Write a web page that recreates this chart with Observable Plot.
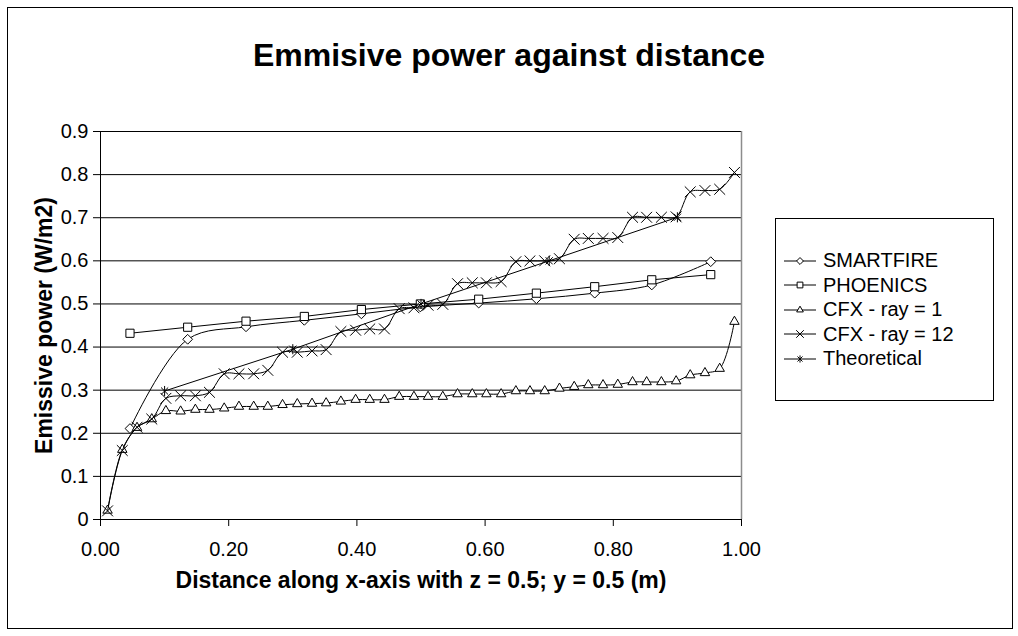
<!DOCTYPE html>
<html><head><meta charset="utf-8">
<script src="https://cdn.jsdelivr.net/npm/d3@7"></script>
<script src="https://cdn.jsdelivr.net/npm/@observablehq/plot@0.6"></script>
<style>
body{margin:0;background:#fff;font-family:"Liberation Sans",Arial,sans-serif;}
#wrap{position:relative;width:1018px;height:636px;overflow:hidden;background:#fff}
#frame{position:absolute;left:7px;top:7px;width:1006px;height:622px;border:1px solid #000;box-sizing:border-box}
#title{position:absolute;left:0;width:1018px;top:36px;text-align:center;font-weight:bold;font-size:32px;line-height:38px;color:#000}
#chart{position:absolute;left:0;top:0}
#legend{position:absolute;left:775px;top:218px;width:219px;height:183px;border:1px solid #000;box-sizing:border-box;background:#fff;display:flex;flex-direction:column;justify-content:center}
.row{display:flex;align-items:center;height:24.5px;font-size:20px;color:#000;white-space:nowrap}
.row svg{flex:none}
</style></head>
<body>
<div id="wrap">
  <div id="frame"></div>
  <div id="title">Emmisive power against distance</div>
  <div id="chart"></div>
  <div id="legend"></div>
</div>
<script>
// ---- data ----
const xTicks = [0, 0.2, 0.4, 0.6, 0.8, 1.0];
const yTicks = [0, 0.1, 0.2, 0.3, 0.4, 0.5, 0.6, 0.7, 0.8, 0.9];
const seriesNames = ["SMARTFIRE", "PHOENICS", "CFX - ray = 1", "CFX - ray = 12", "Theoretical"];

const smartfireX = [0.046, 0.136, 0.227, 0.318, 0.407, 0.499, 0.590, 0.680, 0.771, 0.860, 0.952];
const smartfireY = [0.211, 0.418, 0.447, 0.462, 0.477, 0.493, 0.502, 0.512, 0.525, 0.544, 0.598];

const phoenicsX = [0.046, 0.136, 0.227, 0.318, 0.407, 0.499, 0.590, 0.680, 0.771, 0.860, 0.952];
const phoenicsY = [0.432, 0.446, 0.460, 0.471, 0.487, 0.500, 0.511, 0.525, 0.540, 0.556, 0.568];

const cfxX = [0.011, 0.034, 0.057, 0.080, 0.102, 0.125, 0.148, 0.170, 0.193, 0.216, 0.239,
              0.261, 0.284, 0.307, 0.330, 0.352, 0.375, 0.398, 0.420, 0.443, 0.466, 0.489,
              0.511, 0.534, 0.557, 0.580, 0.602, 0.625, 0.648, 0.670, 0.693, 0.716, 0.739,
              0.761, 0.784, 0.807, 0.830, 0.852, 0.875, 0.898, 0.920, 0.943, 0.966, 0.989];
const cfxRay1Y = [0.021, 0.162, 0.213, 0.233, 0.252, 0.251, 0.255, 0.255, 0.258, 0.262, 0.262,
                  0.262, 0.266, 0.268, 0.269, 0.270, 0.274, 0.278, 0.278, 0.278, 0.285, 0.285,
                  0.285, 0.285, 0.291, 0.291, 0.291, 0.291, 0.298, 0.298, 0.298, 0.304, 0.308,
                  0.312, 0.312, 0.313, 0.319, 0.319, 0.319, 0.321, 0.335, 0.340, 0.350, 0.459];
const cfxRay12Y = [0.020, 0.160, 0.214, 0.233, 0.281, 0.287, 0.287, 0.295, 0.338, 0.338, 0.338,
                   0.346, 0.388, 0.388, 0.391, 0.394, 0.436, 0.439, 0.442, 0.442, 0.489, 0.491,
                   0.497, 0.499, 0.547, 0.549, 0.549, 0.552, 0.598, 0.600, 0.600, 0.605, 0.650,
                   0.652, 0.652, 0.654, 0.701, 0.701, 0.701, 0.702, 0.760, 0.763, 0.766, 0.805];

const theoreticalX = [0.1, 0.3, 0.5, 0.7, 0.9];
const theoreticalY = [0.298, 0.395, 0.500, 0.600, 0.701];

// ---- symbols ----
const asteriskSymbol = {
  draw(context, size) {
    const r = Math.sqrt(size) * 0.62;
    const d = r * 0.7071;
    context.moveTo(0, -r); context.lineTo(0, r);
    context.moveTo(-d, -d); context.lineTo(d, d);
    context.moveTo(-d, d); context.lineTo(d, -d);
  }
};
const d3Sym = {
  "diamond2": d3.symbolDiamond2, "square2": d3.symbolSquare2,
  "triangle2": d3.symbolTriangle2, "times": d3.symbolTimes
};

const zip = (xs, ys) => xs.map((x, i) => ({x, y: ys[i]}));
const series = [
  {name: seriesNames[0], data: zip(smartfireX, smartfireY), symbol: "diamond2", r: 4.4, fill: "white", curve: "catmull-rom"},
  {name: seriesNames[1], data: zip(phoenicsX, phoenicsY), symbol: "square2", r: 5.2, fill: "white", curve: "linear"},
  {name: seriesNames[2], data: zip(cfxX, cfxRay1Y), symbol: "triangle2", r: 4.5, fill: "white", curve: "catmull-rom"},
  {name: seriesNames[3], data: zip(cfxX, cfxRay12Y), symbol: "times", r: 5.0, fill: "none", curve: "catmull-rom"},
  {name: seriesNames[4], data: zip(theoreticalX, theoreticalY), symbol: asteriskSymbol, r: 4.6, fill: "none", curve: "linear"}
];

const seriesMarks = series.flatMap(s => [
  Plot.line(s.data, {x: "x", y: "y", curve: s.curve, stroke: "#000", strokeWidth: 1}),
  Plot.dot(s.data, {x: "x", y: "y", symbol: () => s.symbol, r: s.r, stroke: "#000", strokeWidth: 1, fill: s.fill})
]);

const chart = Plot.plot({
  width: 1018,
  height: 636,
  marginLeft: 100,
  marginRight: 277,
  marginTop: 131,
  marginBottom: 117,
  style: {fontFamily: "'Liberation Sans', Arial, sans-serif", fontSize: "20px", background: "transparent", color: "#000", overflow: "visible"},
  x: {domain: [0, 1]},
  y: {domain: [0, 0.9]},
  symbol: {type: "identity"},
  marks: [
    Plot.gridY(yTicks, {stroke: "#000", strokeOpacity: 1, strokeWidth: 1}),
    Plot.ruleX([1], {y1: 0, y2: 0.9, stroke: "#8c8c8c", strokeWidth: 1.5}),
    Plot.ruleX([0], {y1: 0, y2: 0.9, stroke: "#000", strokeWidth: 1}),
    Plot.axisX({ticks: xTicks, tickFormat: d3.format(".2f"), tickSize: 7, tickPadding: 15, label: null, stroke: "#000"}),
    Plot.axisY({ticks: yTicks, tickFormat: d => d === 0 ? "0" : d3.format(".1f")(d), tickSize: 7, tickPadding: 5, label: null, stroke: "#000"}),
    Plot.text(["Emissive power (W/m2)"], {frameAnchor: "left", rotate: -90, dx: -56, textAnchor: "middle", fontWeight: "bold", fontSize: 23, lineAnchor: "middle"}),
    Plot.text(["Distance along x-axis with z = 0.5; y = 0.5 (m)"], {frameAnchor: "bottom", dy: 61, textAnchor: "middle", fontWeight: "bold", fontSize: 23, lineAnchor: "middle"}),
    ...seriesMarks
  ]
});
document.getElementById("chart").append(chart);

// ---- legend ----
const legend = document.getElementById("legend");
for (const s of series) {
  const row = document.createElement("div");
  row.className = "row";
  const svg = d3.create("svg").attr("width", 47).attr("height", 24);
  svg.append("line").attr("x1", 8).attr("x2", 40).attr("y1", 12).attr("y2", 12).attr("stroke", "#000");
  const symType = typeof s.symbol === "string" ? d3Sym[s.symbol] : s.symbol;
  const size = Math.PI * s.r * s.r * 0.5;
  svg.append("path").attr("d", d3.symbol(symType, size)()).attr("transform", "translate(24,12)")
     .attr("fill", s.fill).attr("stroke", "#000");
  row.append(svg.node());
  const label = document.createElement("span");
  label.textContent = s.name;
  row.append(label);
  legend.append(row);
}
</script>
</body></html>
